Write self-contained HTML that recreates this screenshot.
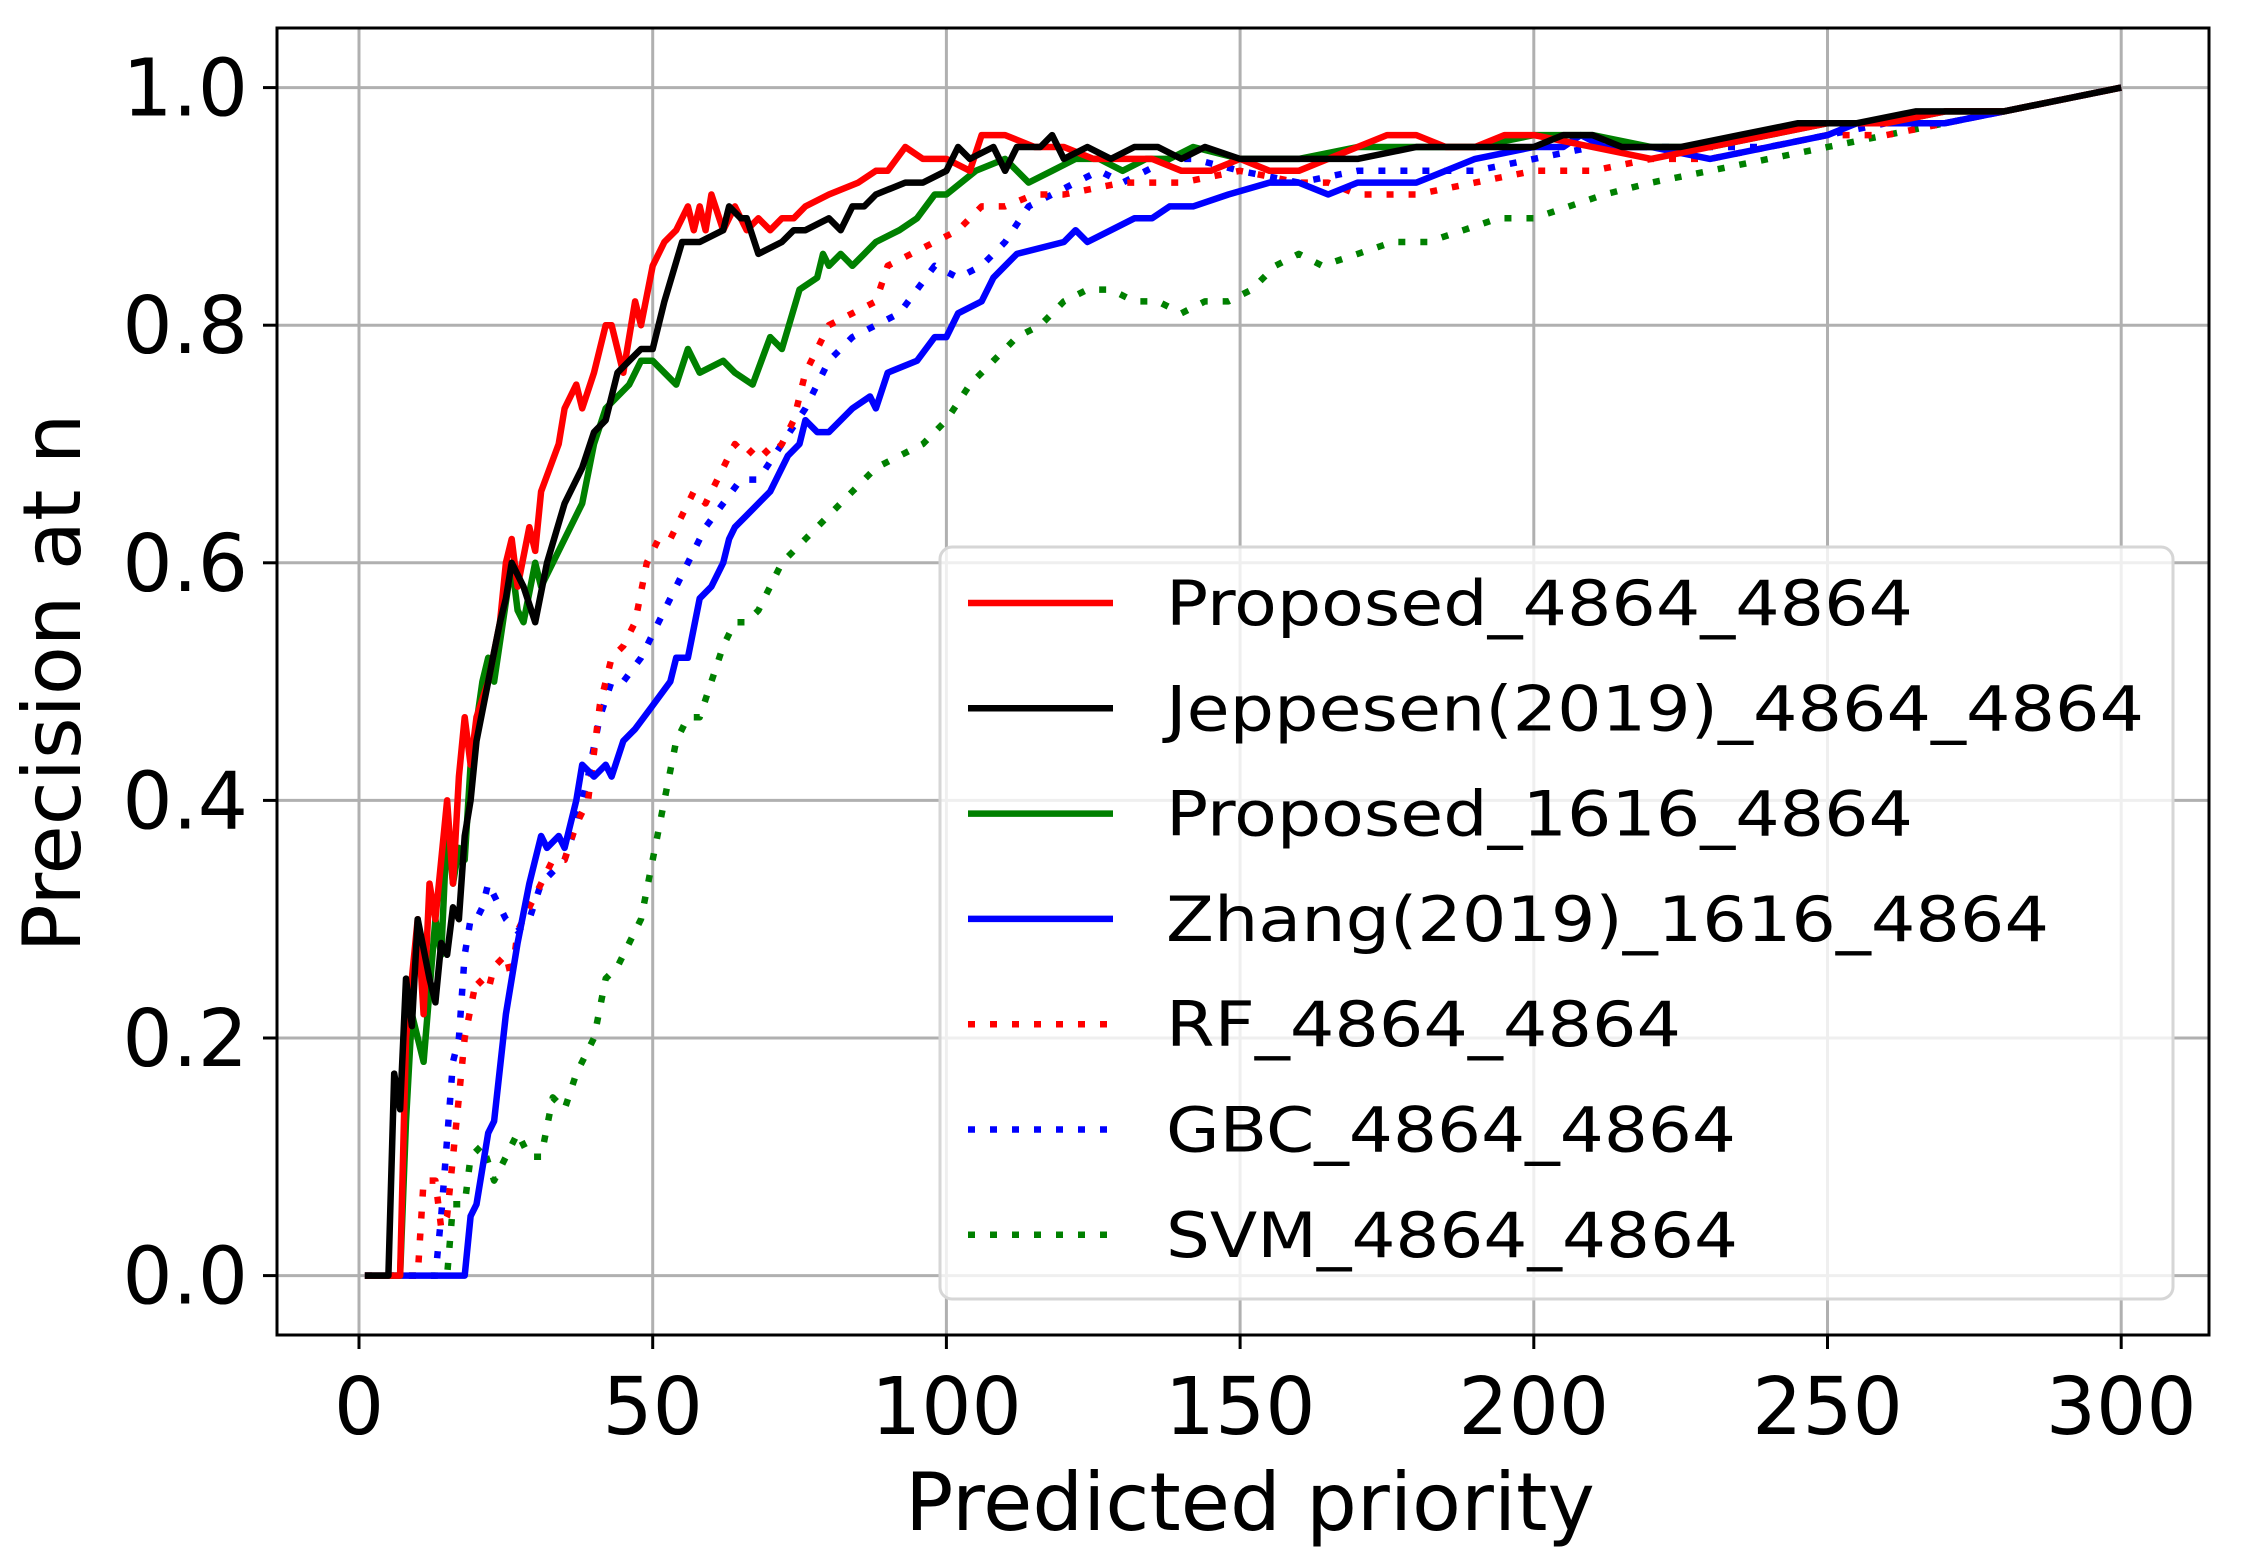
<!DOCTYPE html>
<html><head><meta charset="utf-8"><style>
html,body{margin:0;padding:0;background:#fff;}
svg{display:block;}
text{font-family:"DejaVu Sans","Liberation Sans",sans-serif;fill:#000;}
</style></head><body>
<svg id="s" width="2241" height="1563" viewBox="0 0 2241 1563" xmlns="http://www.w3.org/2000/svg">
<rect x="0" y="0" width="2241" height="1563" fill="#fff"/>
<g id="grid" stroke="#b0b0b0" stroke-width="3"></g>
<g id="lines" fill="none" stroke-width="6.5" stroke-linejoin="round"></g>
<rect x="277" y="28" width="1932" height="1307" fill="none" stroke="#000" stroke-width="3"/>
<g id="ticks" stroke="#000" stroke-width="3"></g>
<g id="labels" font-size="79"></g>
<text x="1250" y="1530" font-size="80" text-anchor="middle">Predicted priority</text>
<text transform="translate(80,683) rotate(-90)" font-size="80" text-anchor="middle">Precision at n</text>
<rect x="940" y="547" width="1233" height="752" rx="12" fill="#fff" fill-opacity="0.8" stroke="#d6d6d6" stroke-width="3"/>
<g id="legend" font-size="62"></g>
</svg>
<script>
var X0=359,SX=5.874,Y0=1275.6,SY=1188;
function px(n){return X0+n*SX;} function py(p){return Y0-p*SY;}
var ns="http://www.w3.org/2000/svg";
function el(t,a,par,txt){var e=document.createElementNS(ns,t);for(var k in a)e.setAttribute(k,a[k]);if(txt!==undefined)e.textContent=txt;document.getElementById(par).appendChild(e);return e;}
for(var v=0;v<=300;v+=50){var x=px(v);el('line',{x1:x,y1:28,x2:x,y2:1335},'grid');el('line',{x1:x,y1:1335,x2:x,y2:1349},'ticks');el('text',{x:x,y:1434,'text-anchor':'middle'},'labels',String(v));}
for(var i=0;i<=5;i++){var p=i*0.2,y=py(p);el('line',{x1:277,y1:y,x2:2209,y2:y},'grid');el('line',{x1:263,y1:y,x2:277,y2:y},'ticks');el('text',{x:248,y:y+28,'text-anchor':'end'},'labels',p.toFixed(1));}
function P(s){return s.trim().split(/\s+/).map(function(t){var a=t.split(',');return [+a[0],+a[1]];});}
var series=[
['#008000',true,"1,0 15,0 16,0.06 18,0.06 19,0.1 21,0.11 23,0.08 25,0.1 27,0.12 29,0.1 31,0.1 33,0.15 35,0.14 37,0.17 39,0.19 40,0.2 42,0.25 44,0.26 46,0.28 48,0.3 50,0.35 52,0.4 54,0.45 56,0.47 58,0.47 60,0.5 62,0.53 64,0.55 66,0.55 68,0.56 72,0.6 76,0.62 80,0.64 84,0.66 88,0.68 92,0.69 96,0.7 100,0.72 104,0.75 108,0.77 112,0.79 116,0.8 120,0.82 124,0.83 128,0.83 132,0.82 136,0.82 140,0.81 144,0.82 148,0.82 152,0.83 156,0.85 160,0.86 164,0.85 170,0.86 176,0.87 182,0.87 188,0.88 194,0.89 200,0.89 206,0.9 212,0.91 220,0.92 230,0.93 240,0.94 250,0.95 260,0.96 270,0.97 280,0.98 290,0.99 300,1"],
['#0000ff',true,"1,0 13,0 14,0.05 16,0.18 17,0.2 18,0.27 19,0.3 20,0.3 21,0.31 22,0.33 25,0.3 27,0.29 29,0.3 31,0.33 33,0.34 35,0.35 37,0.38 39,0.42 41,0.47 43,0.5 45,0.5 48,0.52 50,0.54 53,0.57 56,0.6 59,0.63 62,0.65 65,0.67 68,0.67 72,0.7 76,0.73 80,0.77 84,0.79 88,0.8 92,0.81 95,0.83 98,0.85 102,0.84 106,0.85 110,0.87 114,0.9 118,0.91 122,0.92 126,0.93 130,0.92 134,0.93 138,0.94 142,0.94 150,0.93 160,0.92 170,0.93 180,0.93 190,0.93 200,0.94 210,0.95 220,0.95 230,0.95 240,0.95 250,0.96 260,0.97 270,0.97 280,0.98 290,0.99 300,1"],
['#ff0000',true,"1,0 10,0 11,0.08 13,0.08 14,0.04 15,0.05 17,0.15 18,0.2 20,0.25 22,0.24 23,0.26 25,0.27 26,0.25 27,0.29 29,0.31 31,0.33 33,0.35 35,0.35 37,0.38 39,0.4 41,0.48 43,0.52 45,0.53 47,0.55 49,0.6 51,0.62 53,0.62 55,0.64 57,0.66 59,0.65 62,0.68 64,0.7 66,0.69 68,0.7 70,0.69 72,0.7 74,0.72 76,0.76 78,0.78 80,0.8 84,0.81 88,0.82 90,0.85 94,0.86 98,0.87 102,0.88 106,0.9 110,0.9 115,0.91 120,0.91 130,0.92 135,0.92 140,0.92 150,0.93 160,0.92 165,0.92 170,0.91 180,0.91 190,0.92 200,0.93 210,0.93 220,0.94 230,0.94 240,0.95 250,0.96 260,0.96 270,0.97 280,0.98 290,0.99 300,1"],
['#0000ff',false,"1,0 18,0 19,0.05 20,0.06 22,0.12 23,0.13 25,0.22 27,0.28 29,0.33 31,0.37 32,0.36 34,0.37 35,0.36 37,0.4 38,0.43 40,0.42 42,0.43 43,0.42 45,0.45 47,0.46 50,0.48 53,0.5 54,0.52 56,0.52 58,0.57 60,0.58 62,0.6 63,0.62 64,0.63 66,0.64 70,0.66 71,0.67 73,0.69 75,0.7 76,0.72 78,0.71 80,0.71 84,0.73 87,0.74 88,0.73 90,0.76 95,0.77 98,0.79 100,0.79 102,0.81 106,0.82 108,0.84 110,0.85 112,0.86 120,0.87 122,0.88 124,0.87 128,0.88 132,0.89 135,0.89 138,0.9 142,0.9 148,0.91 155,0.92 160,0.92 165,0.91 170,0.92 175,0.92 180,0.92 185,0.93 190,0.94 200,0.95 205,0.95 208,0.96 212,0.95 220,0.95 230,0.94 240,0.95 250,0.96 255,0.97 260,0.97 270,0.97 280,0.98 290,0.99 300,1"],
['#008000',false,"1,0 7,0 8,0.13 9,0.22 10,0.2 11,0.18 13,0.3 14,0.27 15,0.38 16,0.33 17,0.36 18,0.35 19,0.43 21,0.5 22,0.52 23,0.5 26,0.6 27,0.56 28,0.55 30,0.6 31,0.58 33,0.6 38,0.65 40,0.7 42,0.73 44,0.74 46,0.75 48,0.77 50,0.77 52,0.76 54,0.75 56,0.78 58,0.76 62,0.77 64,0.76 67,0.75 70,0.79 72,0.78 75,0.83 78,0.84 79,0.86 80,0.85 82,0.86 84,0.85 86,0.86 88,0.87 92,0.88 95,0.89 98,0.91 100,0.91 105,0.93 110,0.94 114,0.92 118,0.93 122,0.94 126,0.94 130,0.93 134,0.94 138,0.94 142,0.95 150,0.94 160,0.94 170,0.95 180,0.95 190,0.95 200,0.96 210,0.96 220,0.95 230,0.95 240,0.96 250,0.97 260,0.97 270,0.98 280,0.98 290,0.99 300,1"],
['#ff0000',false,"1,0 7,0 8,0.2 10,0.3 11,0.22 12,0.33 13,0.3 15,0.4 16,0.33 17,0.42 18,0.47 19,0.43 20,0.47 22,0.5 24,0.55 25,0.6 26,0.62 27,0.58 29,0.63 30,0.61 31,0.66 34,0.7 35,0.73 37,0.75 38,0.73 40,0.76 42,0.8 43,0.8 45,0.76 47,0.82 48,0.8 50,0.85 52,0.87 54,0.88 56,0.9 57,0.88 58,0.9 59,0.88 60,0.91 62,0.88 64,0.9 66,0.88 68,0.89 70,0.88 72,0.89 74,0.89 76,0.9 80,0.91 85,0.92 88,0.93 90,0.93 93,0.95 96,0.94 100,0.94 104,0.93 106,0.96 110,0.96 115,0.95 120,0.95 125,0.94 130,0.94 135,0.94 140,0.93 145,0.93 150,0.94 155,0.93 160,0.93 165,0.94 170,0.95 175,0.96 180,0.96 185,0.95 190,0.95 195,0.96 200,0.96 210,0.95 220,0.94 230,0.95 240,0.96 250,0.97 260,0.97 270,0.98 280,0.98 290,0.99 300,1"],
['#000000',false,"1,0 5,0 6,0.17 7,0.14 8,0.25 9,0.21 10,0.3 12,0.25 13,0.23 14,0.28 15,0.27 16,0.31 17,0.3 18,0.37 19,0.4 20,0.45 22,0.5 24,0.55 25,0.57 26,0.6 28,0.58 30,0.55 32,0.6 35,0.65 38,0.68 40,0.71 42,0.72 44,0.76 48,0.78 50,0.78 52,0.82 55,0.87 58,0.87 62,0.88 63,0.9 65,0.89 66,0.89 68,0.86 72,0.87 74,0.88 76,0.88 80,0.89 82,0.88 84,0.9 86,0.9 88,0.91 93,0.92 96,0.92 100,0.93 102,0.95 104,0.94 108,0.95 110,0.93 112,0.95 116,0.95 118,0.96 120,0.94 124,0.95 128,0.94 132,0.95 136,0.95 140,0.94 144,0.95 150,0.94 160,0.94 170,0.94 180,0.95 190,0.95 200,0.95 205,0.96 210,0.96 215,0.95 225,0.95 235,0.96 245,0.97 255,0.97 265,0.98 280,0.98 290,0.99 300,1"]
];
series.forEach(function(s){var pts=P(s[2]).map(function(q){return px(q[0]).toFixed(1)+','+py(q[1]).toFixed(1);}).join(' ');var a={points:pts,stroke:s[0]};if(s[1])a['stroke-dasharray']='7 15';el('polyline',a,'lines');});
var leg=[['Proposed_4864_4864','#ff0000',0],['Jeppesen(2019)_4864_4864','#000000',0],['Proposed_1616_4864','#008000',0],['Zhang(2019)_1616_4864','#0000ff',0],['RF_4864_4864','#ff0000',1],['GBC_4864_4864','#0000ff',1],['SVM_4864_4864','#008000',1]];
var w={'Proposed_4864_4864':747,'Jeppesen(2019)_4864_4864':978,'Proposed_1616_4864':747,'Zhang(2019)_1616_4864':883,'RF_4864_4864':515,'GBC_4864_4864':570,'SVM_4864_4864':572};
leg.forEach(function(l,i){var y=603+i*105.3;var a={x1:968,y1:y,x2:1113,y2:y,stroke:l[1],'stroke-width':6.5};if(l[2])a['stroke-dasharray']='7 15';el('line',a,'legend');el('text',{x:1166,y:y+22,textLength:w[l[0]],lengthAdjust:'spacingAndGlyphs'},'legend',l[0]);});
</script>
</body></html>
